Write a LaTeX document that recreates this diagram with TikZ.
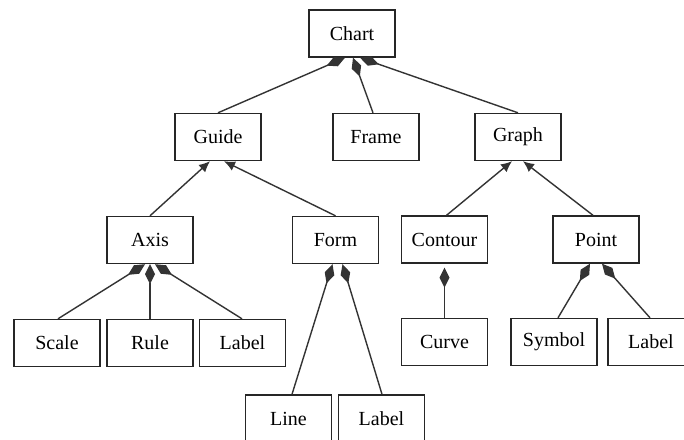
\documentclass[tikz,border=0pt]{standalone}
\usepackage{fontspec}
\setmainfont{Liberation Serif}
\usetikzlibrary{arrows.meta}
\begin{document}
\begin{tikzpicture}[x=1pt,y=-1pt,
  box/.style={draw=black!85,line width=1.4pt,rectangle,minimum width=86pt,minimum height=47pt,inner sep=0pt,font=\fontsize{20}{23}\selectfont},
  conn/.style={draw=black!80,line width=1.4pt},
  comp/.style={conn,{Diamond[length=20pt,width=10pt]}-},
  inh/.style={conn,{Latex[length=11pt,width=10pt]}-}]
\useasboundingbox (0,0) rectangle (684,439);
\fill[white] (0,0) rectangle (684,439);
\node[box] (chart) at (352,33.5) {Chart};
\node[box] (guide) at (218,137) {Guide};
\node[box] (frame) at (376,137) {Frame};
\node[box] (graph) at (518,137) {Graph};
\node[box] (axis) at (150,240) {Axis};
\node[box] (form) at (335.5,240) {Form};
\node[box] (contour) at (444.5,239.5) {Contour};
\node[box] (point) at (596,239.5) {Point};
\node[box] (scale) at (57,343) {Scale};
\node[box] (rule) at (150,343) {Rule};
\node[box] (labela) at (242.5,343) {Label};
\node[box] (curve) at (444.5,342) {Curve};
\node[box] (symbol) at (554,342) {Symbol};
\node[box] (labelb) at (651,342) {Label};
\node[box] (line) at (288.5,418.5) {Line};
\node[box] (labelc) at (381.5,418.5) {Label};
% Chart compositions
\draw[comp] ([xshift=-7pt]chart.south) -- (guide.north);
\draw[comp] ([xshift=1pt]chart.south) -- ([xshift=-3pt]frame.north);
\draw[comp] ([xshift=8pt]chart.south) -- (graph.north);
% Guide inheritance
\draw[inh] ([xshift=-8pt]guide.south) -- (axis.north);
\draw[inh] ([xshift=6pt]guide.south) -- (form.north);
% Graph inheritance
\draw[inh] ([xshift=-6pt]graph.south) -- ([xshift=2pt]contour.north);
\draw[inh] ([xshift=5pt]graph.south) -- ([xshift=-3pt]point.north);
% Axis compositions
\draw[comp] ([xshift=-5pt]axis.south) -- ([xshift=1pt]scale.north);
\draw[comp] (axis.south) -- (rule.north);
\draw[comp] ([xshift=5pt]axis.south) -- ([xshift=-0.5pt]labela.north);
% Form compositions
\draw[comp] ([xshift=-3pt]form.south) -- ([xshift=3.5pt]line.north);
\draw[comp] ([xshift=7pt]form.south) -- ([xshift=0.5pt]labelc.north);
% Contour composition
\draw[conn,{Diamond[length=20pt,width=10pt,sep=4pt]}-] (contour.south) -- (curve.north);
% Point compositions
\draw[comp] ([xshift=-6pt]point.south) -- ([xshift=4pt]symbol.north);
\draw[comp] ([xshift=6pt]point.south) -- ([xshift=-1pt]labelb.north);
\end{tikzpicture}
\end{document}
